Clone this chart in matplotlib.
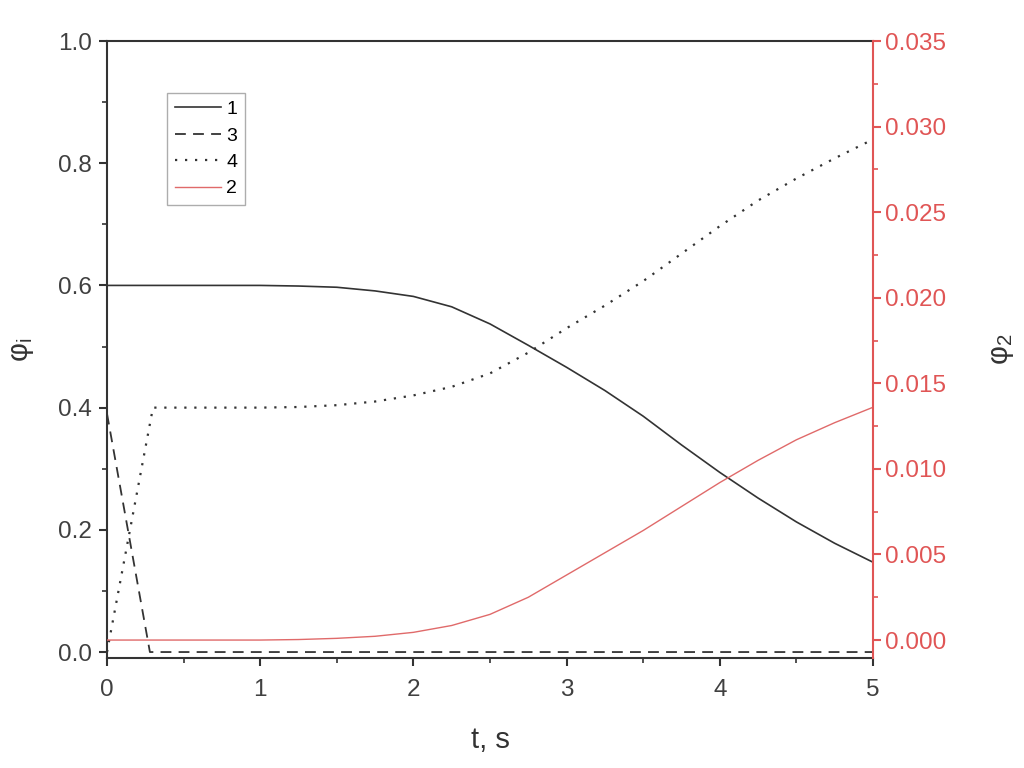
import matplotlib
matplotlib.use("Agg")
import matplotlib.pyplot as plt
from matplotlib.ticker import MultipleLocator

plt.rcParams['font.family'] = ['Liberation Sans', 'DejaVu Sans']

# ---- data ----
t_main = [0.0, 0.25, 0.5, 0.75, 1.0, 1.25, 1.5, 1.75, 2.0, 2.25, 2.5,
          2.75, 3.0, 3.25, 3.5, 3.75, 4.0, 4.25, 4.5, 4.75, 5.0]
phi1 = [0.600, 0.600, 0.600, 0.600, 0.600, 0.599, 0.597, 0.591, 0.582, 0.565, 0.537,
        0.502, 0.466, 0.428, 0.386, 0.339, 0.294, 0.252, 0.213, 0.178, 0.147]
phi2 = [0.0, 0.0, 0.0, 0.0, 0.0, 0.00003, 0.0001, 0.00022, 0.00045, 0.00085, 0.0015,
        0.0025, 0.0038, 0.0051, 0.0064, 0.0078, 0.0092, 0.0105, 0.0117, 0.0127, 0.0136]

t3 = [0.0, 0.28, 5.0]
phi3 = [0.39, 0.0, 0.0]

t4 = [0.0, 0.3, 0.5, 0.75, 1.0, 1.25, 1.5, 1.75, 2.0, 2.25, 2.5,
      2.75, 3.0, 3.25, 3.5, 3.75, 4.0, 4.25, 4.5, 4.75, 5.0]
phi4 = [0.0, 0.400, 0.400, 0.400, 0.400, 0.401, 0.404, 0.410, 0.420, 0.434, 0.456,
        0.490, 0.530, 0.567, 0.607, 0.652, 0.697, 0.739, 0.775, 0.808, 0.839]

labels = ['1', '3', '4', '2']
x_ticks = [0, 1, 2, 3, 4, 5]
y_left_ticks = [0.0, 0.2, 0.4, 0.6, 0.8, 1.0]
y_right_ticks = [0.000, 0.005, 0.010, 0.015, 0.020, 0.025, 0.030, 0.035]

RED = '#e05555'
LINE_RED = '#e06a6a'
DARK = '#333333'
TXT = '#404040'

fig = plt.figure(figsize=(10.24, 7.68), dpi=100)
ax = fig.add_axes([0.1045, 0.1432, 0.748, 0.8034])
ax2 = ax.twinx()

l1, = ax.plot(t_main, phi1, color=DARK, lw=1.2, label=labels[0])
l3, = ax.plot(t3, phi3, color=DARK, lw=1.3, linestyle=(0, (6, 4)), label=labels[1])
l4, = ax.plot(t4, phi4, color=DARK, lw=1.6, linestyle=(0, (1, 3.5)), label=labels[2])
l2, = ax2.plot(t_main, phi2, color=LINE_RED, lw=1.0, label=labels[3])

ax.set_xlim(0, 5)
ax.set_ylim(-0.0098, 1.0)
ax2.set_ylim(-0.00105, 0.035)

ax.set_xticks(x_ticks)
ax.set_yticks(y_left_ticks)
ax.set_yticklabels([f'{v:.1f}' for v in y_left_ticks])
ax2.set_yticks(y_right_ticks)
ax2.set_yticklabels([f'{v:.3f}' for v in y_right_ticks])
ax.xaxis.set_minor_locator(MultipleLocator(0.5))
ax.yaxis.set_minor_locator(MultipleLocator(0.1))
ax2.yaxis.set_minor_locator(MultipleLocator(0.0025))

for sp in ['left', 'bottom', 'top']:
    ax.spines[sp].set_color(DARK)
    ax.spines[sp].set_linewidth(1.5)
ax.spines['right'].set_visible(False)
for sp in ['left', 'bottom', 'top']:
    ax2.spines[sp].set_visible(False)
ax2.spines['right'].set_color(RED)
ax2.spines['right'].set_linewidth(1.5)

ax.tick_params(axis='both', which='major', direction='out', length=6, width=1.5,
               color=DARK, labelcolor=TXT, labelsize=17.5, top=False, right=False)
ax.tick_params(axis='both', which='minor', direction='out', length=3.5, width=1.2,
               color=DARK, top=False, right=False)
ax.tick_params(axis='x', pad=9)
ax.tick_params(axis='y', pad=5)
ax2.tick_params(axis='y', which='major', direction='out', length=6, width=1.5,
                color=RED, labelcolor=RED, labelsize=17.5, pad=3)
ax2.tick_params(axis='y', which='minor', direction='out', length=3.5, width=1.2,
                color=RED)

ax.set_xlabel('t, s', fontsize=21, color=DARK, labelpad=18)
ax.set_ylabel(r'$\mathregular{\varphi_i}$', fontsize=21, color=DARK, labelpad=16)
ax2.set_ylabel(r'$\mathregular{\varphi_2}$', fontsize=21, color=DARK, labelpad=30)

leg = ax.legend(handles=[l1, l3, l4, l2], loc='upper left',
                bbox_to_anchor=(0.078, 0.916), fontsize=14, frameon=True,
                fancybox=False, edgecolor='#999999', handlelength=2.4,
                handletextpad=0.25, labelspacing=0.45, borderpad=0.4,
                borderaxespad=0.0)
leg.get_frame().set_linewidth(1.0)

fig.savefig('out.png', dpi=100)
